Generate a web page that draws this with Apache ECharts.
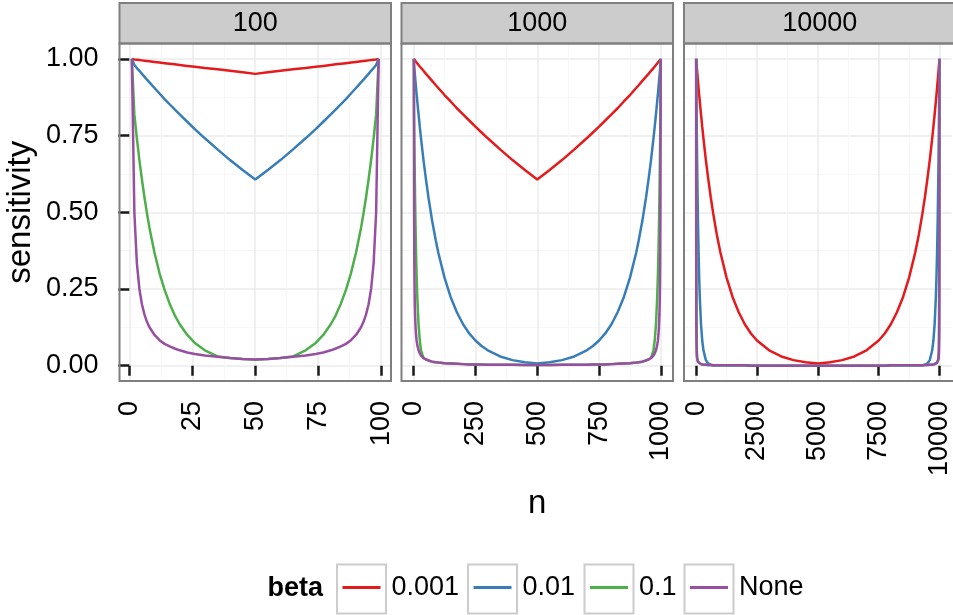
<!DOCTYPE html>
<html>
<head>
<meta charset="utf-8">
<script src="https://cdn.jsdelivr.net/npm/echarts@6/dist/echarts.min.js"></script>
<style>
html,body{margin:0;padding:0;background:#fff;}
#chart{width:953px;height:615px;}
</style>
</head>
<body>
<div id="chart"></div>
<script>
// ---------- data ----------
const facetTitles = ['100', '1000', '10000'];
const seriesNames = ['0.001', '0.01', '0.1', 'None'];
const xTickLabels = [[0, 25, 50, 75, 100], [0, 250, 500, 750, 1000], [0, 2500, 5000, 7500, 10000]];
const xMinorTicks = [[12.5, 37.5, 62.5, 87.5], [125, 375, 625, 875], [1250, 3750, 6250, 8750]];
const yTickLabels = [0, 0.25, 0.5, 0.75, 1];
const yMinorTicks = [0.125, 0.375, 0.625, 0.875];

const n100 = [1,2,3,4,5,6,7,8,10,12,14,16,18,20,23,26,30,35,40,45,50,55,60,65,70,74,77,80,82,84,86,88,90,92,93,94,95,96,97,98,99];
const s100_0001 = [1.000,.998,.997,.996,.995,.994,.993,.992,.990,.988,.986,.984,.982,.980,.977,.974,.970,.966,.961,.956,.951,
  .956,.961,.966,.970,.974,.977,.980,.982,.984,.986,.988,.990,.992,.993,.994,.995,.996,.997,.998,1.000];
const s100_001 = [1.000,.980,.970,.961,.951,.942,.932,.923,.905,.887,.869,.852,.835,.819,.795,.771,.741,.705,.670,.638,.607,
  .638,.670,.705,.741,.771,.795,.819,.835,.852,.869,.887,.905,.923,.932,.942,.951,.961,.970,.980,1.000];
const s100_01 = [1.000,.819,.741,.670,.607,.549,.497,.449,.368,.301,.247,.202,.165,.135,.100,.074,.050,.030,.025,.022,.020,
  .022,.025,.030,.050,.074,.100,.135,.165,.202,.247,.301,.368,.449,.497,.549,.607,.670,.741,.819,1.000];
const s100_none = [1.000,.500,.333,.250,.200,.167,.143,.125,.100,.083,.071,.063,.056,.050,.043,.038,.033,.029,.025,.022,.020,
  .022,.025,.029,.033,.038,.043,.050,.056,.063,.071,.083,.100,.125,.143,.167,.200,.250,.333,.500,1.000];

const n1000 = [1,2,3,4,5,6,8,10,12,15,20,25,30,40,50,60,75,90,100,125,150,175,200,225,250,275,300,350,400,450,500,
  550,600,650,700,725,750,775,800,825,850,875,900,910,925,940,950,960,970,975,980,985,988,990,992,994,995,996,997,998,999];
const s1000_0001 = [1.000,.998,.997,.996,.995,.994,.992,.990,.988,.985,.980,.975,.970,.961,.951,.942,.928,.914,.905,.882,.861,.839,.819,.799,.779,.760,.741,.705,.670,.638,.607,
  .638,.670,.705,.741,.760,.779,.799,.819,.839,.861,.882,.905,.914,.928,.942,.951,.961,.970,.975,.980,.985,.988,.990,.992,.994,.995,.996,.997,.998,1.000];
const s1000_001 = [1.000,.980,.970,.961,.951,.942,.923,.905,.887,.861,.819,.779,.741,.670,.607,.549,.472,.407,.368,.287,.223,.174,.135,.105,.082,.064,.050,.030,.018,.011,.007,
  .011,.018,.030,.050,.064,.082,.105,.135,.174,.223,.287,.368,.407,.472,.549,.607,.670,.741,.779,.819,.861,.887,.905,.923,.942,.951,.961,.970,.980,1.000];
const s1000_01 = [1.000,.819,.741,.670,.607,.549,.449,.368,.301,.223,.135,.082,.050,.025,.020,.017,.013,.011,.010,.008,.007,.006,.005,.004,.004,.004,.003,.003,.003,.002,.002,
  .002,.003,.003,.003,.004,.004,.004,.005,.006,.007,.008,.010,.011,.013,.017,.020,.025,.050,.082,.135,.223,.301,.368,.449,.549,.607,.670,.741,.819,1.000];
const s1000_none = [1.000,.500,.333,.250,.200,.167,.125,.100,.083,.067,.050,.040,.033,.025,.020,.017,.013,.011,.010,.008,.007,.006,.005,.004,.004,.004,.003,.003,.003,.002,.002,
  .002,.003,.003,.003,.004,.004,.004,.005,.006,.007,.008,.010,.011,.013,.017,.020,.025,.033,.040,.050,.067,.083,.100,.125,.167,.200,.250,.333,.500,1.000];

const n10000 = [1,2,3,5,10,20,30,40,50,75,100,125,150,200,250,300,400,500,600,700,850,1000,1250,1500,1750,2000,2250,2500,3000,3500,4000,4500,5000,
  5500,6000,6500,7000,7500,7750,8000,8250,8500,8750,9000,9150,9300,9400,9500,9600,9700,9750,9800,9850,9875,9900,9925,9950,9960,9970,9980,9990,9995,9997,9998,9999];
const s10000_0001 = [1.000,.998,.997,.995,.990,.980,.970,.961,.951,.928,.905,.882,.861,.819,.779,.741,.670,.607,.549,.497,.427,.368,.287,.223,.174,.135,.105,.082,.050,.030,.018,.011,.007,
  .011,.018,.030,.050,.082,.105,.135,.174,.223,.287,.368,.427,.497,.549,.607,.670,.741,.779,.819,.861,.882,.905,.928,.951,.961,.970,.980,.990,.995,.997,.998,1.000];
const s10000_001 = [1.000,.980,.970,.951,.905,.819,.741,.670,.607,.472,.368,.287,.223,.135,.082,.050,.018,.007,.003,.001,.001,.001,.001,.001,.001,.001,.000,.000,.000,.000,.000,.000,.000,
  .000,.000,.000,.000,.000,.000,.001,.001,.001,.001,.001,.001,.001,.003,.007,.018,.050,.082,.135,.223,.287,.368,.472,.607,.670,.741,.819,.905,.951,.970,.980,1.000];
const s10000_01 = [1.000,.819,.741,.607,.368,.135,.050,.025,.020,.013,.010,.008,.007,.005,.004,.003,.003,.002,.002,.001,.001,.001,.001,.001,.001,.001,.000,.000,.000,.000,.000,.000,.000,
  .000,.000,.000,.000,.000,.000,.001,.001,.001,.001,.001,.001,.001,.002,.002,.003,.003,.004,.005,.007,.008,.010,.013,.020,.025,.050,.135,.368,.607,.741,.819,1.000];
const s10000_none = [1.000,.500,.333,.200,.100,.050,.033,.025,.020,.013,.010,.008,.007,.005,.004,.003,.003,.002,.002,.001,.001,.001,.001,.001,.001,.001,.000,.000,.000,.000,.000,.000,.000,
  .000,.000,.000,.000,.000,.000,.001,.001,.001,.001,.001,.001,.001,.002,.002,.003,.003,.004,.005,.007,.008,.010,.013,.020,.025,.033,.050,.100,.200,.333,.500,1.000];

const facetX = [n100, n1000, n10000];
const facetY = [
  [s100_0001, s100_001, s100_01, s100_none],
  [s1000_0001, s1000_001, s1000_01, s1000_none],
  [s10000_0001, s10000_001, s10000_01, s10000_none]
];

// ---------- styling / layout ----------
const colors = ['#E41A1C', '#377EB8', '#4DAF4A', '#984EA3'];
const FONT = '"Liberation Sans", Arial, Helvetica, sans-serif';
const gridLeft = [119.5, 401.5, 684];
const gridTop = 43.5, gridW = 271.5, gridH = 337.5;
const yMin = -0.05, yMax = 1.05;

const grids = [], xAxes = [], yAxes = [], series = [], graphics = [];

for (let f = 0; f < 3; f++) {
  const xs = facetX[f];
  const lo = Math.min(...xs), hi = Math.max(...xs);
  const pad = (hi - lo) * 0.05;
  const xmin = lo - pad, xmax = hi + pad;
  grids.push({left: gridLeft[f], top: gridTop, width: gridW, height: gridH, show: true,
    backgroundColor: '#fff', borderWidth: 0, containLabel: false});
  xAxes.push({
    gridIndex: f, type: 'value', min: xmin, max: xmax,
    axisLine: {show: false},
    axisTick: {show: true, length: 10, customValues: xTickLabels[f], lineStyle: {color: '#1a1a1a', width: 2.5}},
    axisLabel: {show: true, customValues: xTickLabels[f], rotate: 90, margin: 20,
      fontSize: 27, fontFamily: FONT, color: '#000', formatter: v => String(v)},
    splitLine: {show: true, lineStyle: {color: '#EBEBEB', width: 1.5}},
    name: f === 1 ? 'n' : '', nameLocation: 'middle', nameGap: 106,
    nameTextStyle: {fontSize: 33, fontFamily: FONT, color: '#000'}
  });
  xAxes.push({
    gridIndex: f, type: 'value', min: xmin, max: xmax,
    axisLine: {show: false},
    axisTick: {show: false, customValues: xMinorTicks[f]},
    axisLabel: {show: false, customValues: xMinorTicks[f]},
    splitLine: {show: true, lineStyle: {color: '#F7F7F7', width: 1.2}}
  });
  yAxes.push({
    gridIndex: f, type: 'value', min: yMin, max: yMax,
    axisLine: {show: false},
    axisTick: {show: f === 0, length: 11, customValues: yTickLabels, lineStyle: {color: '#1a1a1a', width: 2.5}},
    axisLabel: {show: f === 0, customValues: yTickLabels, margin: 21, fontSize: 27, fontFamily: FONT, color: '#000',
      formatter: v => Number(v).toFixed(2)},
    splitLine: {show: true, lineStyle: {color: '#EBEBEB', width: 1.5}},
    name: f === 0 ? 'sensitivity' : '', nameLocation: 'middle', nameGap: 82,
    nameTextStyle: {fontSize: 33, fontFamily: FONT, color: '#000'}
  });
  yAxes.push({
    gridIndex: f, type: 'value', min: yMin, max: yMax,
    axisLine: {show: false},
    axisTick: {show: false, customValues: yMinorTicks},
    axisLabel: {show: false, customValues: yMinorTicks},
    splitLine: {show: true, lineStyle: {color: '#F7F7F7', width: 1.2}}
  });
  for (let s = 0; s < 4; s++) {
    series.push({
      name: seriesNames[s], type: 'line', xAxisIndex: 2 * f, yAxisIndex: 2 * f,
      data: xs.map((x, i) => [x, facetY[f][s][i]]),
      showSymbol: false, symbol: 'none', smooth: false,
      lineStyle: {color: colors[s], width: 2.5}, itemStyle: {color: colors[s]},
      z: 3 + s, silent: true
    });
  }
  graphics.push({type: 'rect', z: 100, shape: {x: gridLeft[f], y: 3, width: gridW, height: gridTop - 3},
    style: {fill: '#CCCCCC', stroke: '#7F7F7F', lineWidth: 2}});
  graphics.push({type: 'text', z: 101, x: gridLeft[f] + gridW / 2, y: 24,
    style: {text: facetTitles[f], fontSize: 27, fontFamily: FONT, fill: '#000', align: 'center', verticalAlign: 'middle'}});
  graphics.push({type: 'rect', z: 100, shape: {x: gridLeft[f], y: gridTop, width: gridW, height: gridH},
    style: {fill: 'none', stroke: '#7F7F7F', lineWidth: 2}});
}

// legend key boxes + title
const keyLeft = [337, 468, 584.5, 684.5];
const keyTop = 564.5, keySize = 49;
graphics.push({type: 'text', z: 101, x: 267.5, y: keyTop + keySize / 2,
  style: {text: 'beta', fontSize: 27, fontWeight: 'bold', fontFamily: FONT, fill: '#000', align: 'left', verticalAlign: 'middle'}});
for (let i = 0; i < 4; i++) {
  graphics.push({type: 'rect', z: 1, shape: {x: keyLeft[i], y: keyTop, width: keySize, height: keySize},
    style: {fill: '#fff', stroke: '#CCCCCC', lineWidth: 2}});
}
const legends = seriesNames.map((nm, i) => ({
  data: [nm], left: keyLeft[i] + 5.5, top: keyTop + keySize / 2 - 15,
  orient: 'horizontal', icon: 'rect', itemWidth: 38, itemHeight: 3, selectedMode: false,
  padding: 0, z: 10,
  textStyle: {fontSize: 27, fontFamily: FONT, color: '#000', padding: [0, 0, 0, 6]}
}));

const chart = echarts.init(document.getElementById('chart'), null, {renderer: 'canvas'});
chart.setOption({
  animation: false,
  backgroundColor: '#fff',
  color: colors,
  grid: grids,
  xAxis: xAxes,
  yAxis: yAxes,
  legend: legends,
  series: series,
  graphic: graphics
});
</script>
</body>
</html>
